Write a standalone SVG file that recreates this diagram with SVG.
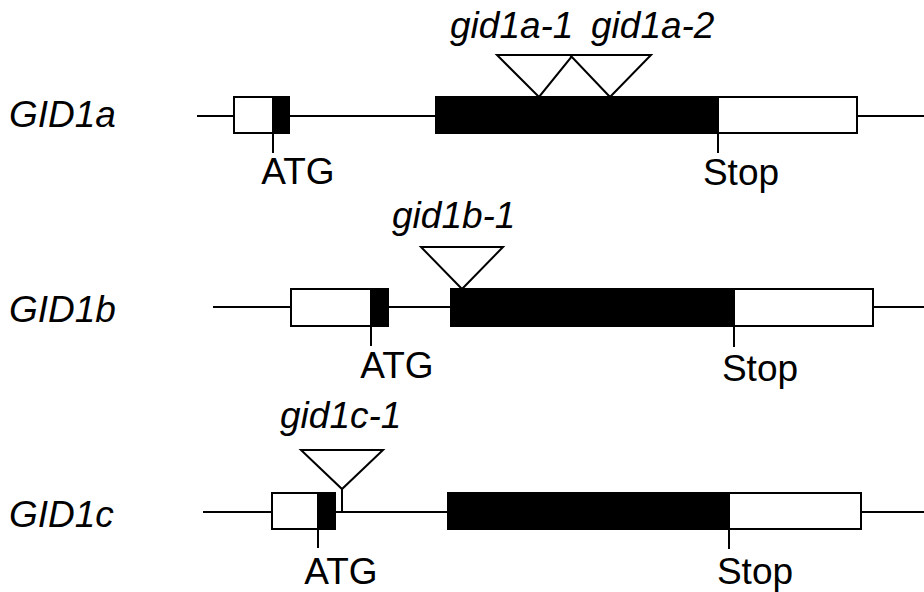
<svg xmlns="http://www.w3.org/2000/svg" width="924" height="592" viewBox="0 0 924 592">
<style>
.ln{stroke:#000;stroke-width:2;fill:none}
.utr{fill:#fff;stroke:#000;stroke-width:2}
.cds{fill:#000;stroke:#000;stroke-width:2}
.ins{fill:#fff;stroke:#000;stroke-width:2;stroke-linejoin:miter}
.lbl{font-family:"Liberation Sans",Arial,sans-serif;font-size:37px;fill:#000}
.it{font-style:italic}
.mid{text-anchor:middle}
</style>
<rect width="924" height="592" fill="#fff"/>
<g id="GID1a">
<text class="lbl it" x="9" y="127">GID1a</text>
<line class="ln" x1="197" y1="116" x2="234" y2="116"/>
<line class="ln" x1="289" y1="116" x2="436" y2="116"/>
<line class="ln" x1="857" y1="116" x2="924" y2="116"/>
<rect class="utr" x="234" y="97" width="39" height="36"/>
<rect class="cds" x="273" y="97" width="16" height="36"/>
<rect class="cds" x="436" y="97" width="282" height="36"/>
<rect class="utr" x="718" y="97" width="139" height="36"/>
<line class="ln" x1="273" y1="133" x2="273" y2="153"/>
<line class="ln" x1="718" y1="133" x2="718" y2="153"/>
<text class="lbl mid" x="298" y="184">ATG</text>
<text class="lbl mid" x="741" y="185">Stop</text>
</g>
<g id="gid1a-1">
<polygon class="ins" points="497,55 573,55 539,97"/>
<text class="lbl it" x="450" y="38">gid1a-1</text>
</g>
<g id="gid1a-2">
<polygon class="ins" points="570,55 651,55 610,97"/>
<line class="ln" x1="497" y1="55" x2="651" y2="55"/>
<text class="lbl it" x="591" y="38">gid1a-2</text>
</g>
<g id="GID1b">
<text class="lbl it" x="9" y="322">GID1b</text>
<line class="ln" x1="213" y1="307" x2="291" y2="307"/>
<line class="ln" x1="388" y1="307" x2="451" y2="307"/>
<line class="ln" x1="873" y1="307" x2="924" y2="307"/>
<rect class="utr" x="291" y="289" width="80" height="37"/>
<rect class="cds" x="371" y="289" width="17" height="37"/>
<rect class="cds" x="451" y="289" width="283" height="37"/>
<rect class="utr" x="734" y="289" width="139" height="37"/>
<line class="ln" x1="371" y1="326" x2="371" y2="346"/>
<line class="ln" x1="734" y1="326" x2="734" y2="347"/>
<text class="lbl mid" x="397" y="378">ATG</text>
<text class="lbl mid" x="760" y="381">Stop</text>
</g>
<g id="gid1b-1">
<polygon class="ins" points="421,247 503,247 462,289"/>
<text class="lbl it" x="392" y="228">gid1b-1</text>
</g>
<g id="GID1c">
<text class="lbl it" x="9" y="527">GID1c</text>
<line class="ln" x1="203" y1="512" x2="272" y2="512"/>
<line class="ln" x1="335" y1="512" x2="448" y2="512"/>
<line class="ln" x1="861" y1="512" x2="924" y2="512"/>
<rect class="utr" x="272" y="493" width="46" height="36"/>
<rect class="cds" x="318" y="493" width="17" height="36"/>
<rect class="cds" x="448" y="493" width="281" height="36"/>
<rect class="utr" x="729" y="493" width="132" height="36"/>
<line class="ln" x1="318" y1="529" x2="318" y2="548"/>
<line class="ln" x1="729" y1="529" x2="729" y2="549"/>
<text class="lbl mid" x="341" y="584">ATG</text>
<text class="lbl mid" x="755" y="584">Stop</text>
</g>
<g id="gid1c-1">
<polygon class="ins" points="301,450 383,450 342,489"/>
<line class="ln" x1="342" y1="489" x2="342" y2="512"/>
<text class="lbl it" x="280" y="428">gid1c-1</text>
</g>
<g id="connectors"></g>
</svg>
